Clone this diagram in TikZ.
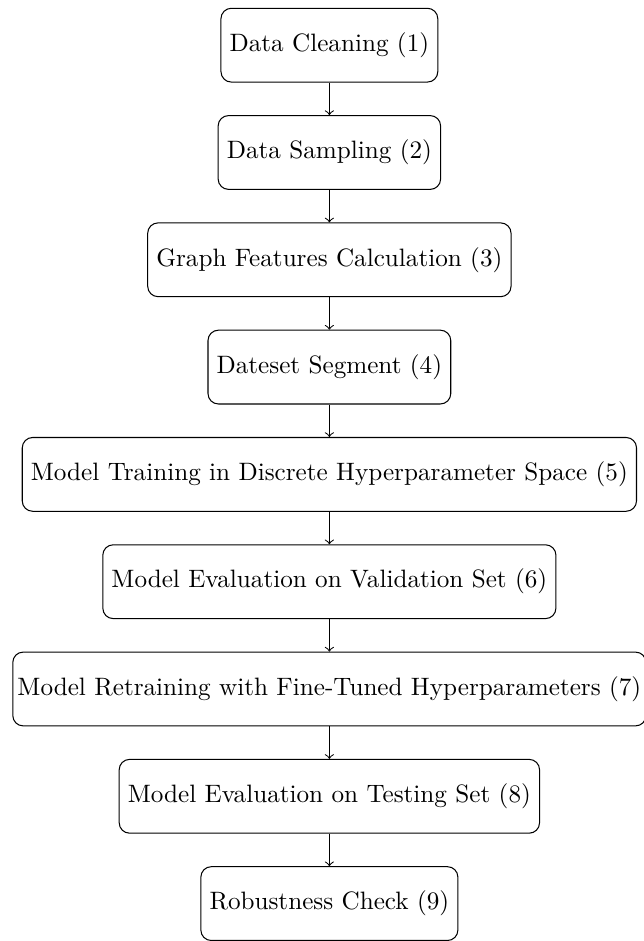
\documentclass[tikz,border=0pt]{standalone}
\usetikzlibrary{positioning,calc}

\tikzset{stage/.style={draw, rounded corners, minimum height=1cm, align=center,
		font=\fontsize{9.7pt}{11.6pt}\selectfont}}

\begin{document}
\begin{tikzpicture}[node distance=0.44cm]
		%%%%% START %%%%%
		
		\node[stage] (clean) {Data Cleaning (1)};
		\node[stage, below=of clean] (sample) {Data Sampling (2)};
		\node[stage, below=of sample] (graphfeat) {Graph Features Calculation (3)};
		\node[stage, below=of graphfeat] (segment) {Dateset Segment (4)};
		\node[stage, below=of segment] (train) {Model Training in Discrete Hyperparameter Space (5)};
		\node[stage, below=of train] (evalval) {Model Evaluation on Validation Set (6)};
		\node[stage, below=of evalval, inner xsep=1.8pt] (retrain) {Model Retraining with Fine-Tuned Hyperparameters (7)};
		\node[stage, below=of retrain] (evaltest) {Model Evaluation on Testing Set (8)};
		\node[stage, below=of evaltest] (robust) {Robustness Check (9)};
		
		\foreach \a/\b in {clean/sample, sample/graphfeat, graphfeat/segment, segment/train,
			train/evalval, evalval/retrain, retrain/evaltest, evaltest/robust}
			\draw[->] (\a) -- (\b);
		
		\pgfresetboundingbox
		\useasboundingbox ($(clean.north)+(-127pt,3pt)$) rectangle ($(robust.south)+(121pt,0pt)$);
		
		%%%%% END %%%%%
	\end{tikzpicture}
\end{document}
